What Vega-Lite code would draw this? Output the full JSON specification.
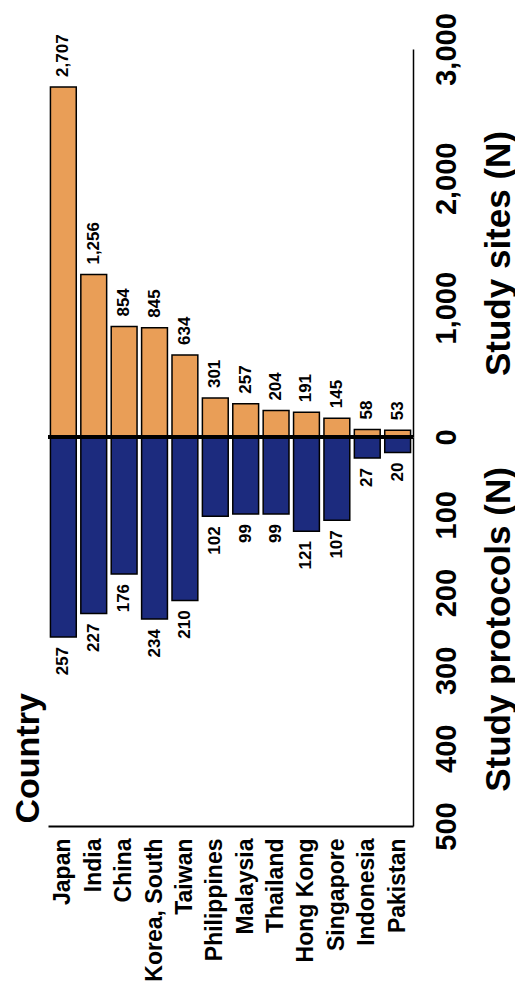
{
  "$schema": "https://vega.github.io/schema/vega-lite/v6.json",
  "background": "white",
  "padding": {"left": 10, "top": 12, "right": 0, "bottom": 0},
  "autosize": {"type": "pad"},
  "spacing": 0,
  "bounds": "flush",
  "config": {
    "view": {"stroke": null},
    "font": "Liberation Sans",
    "axis": {"grid": false, "labelColor": "black", "titleColor": "black", "domainColor": "black", "labelFontWeight": "bold", "titleFontWeight": "bold"},
    "concat": {"spacing": 0}
  },
  "data": {
    "values": [
      {"country": "Japan", "sites": 2707, "protocols": 257},
      {"country": "India", "sites": 1256, "protocols": 227},
      {"country": "China", "sites": 854, "protocols": 176},
      {"country": "Korea, South", "sites": 845, "protocols": 234},
      {"country": "Taiwan", "sites": 634, "protocols": 210},
      {"country": "Philippines", "sites": 301, "protocols": 102},
      {"country": "Malaysia", "sites": 257, "protocols": 99},
      {"country": "Thailand", "sites": 204, "protocols": 99},
      {"country": "Hong Kong", "sites": 191, "protocols": 121},
      {"country": "Singapore", "sites": 145, "protocols": 107},
      {"country": "Indonesia", "sites": 58, "protocols": 27},
      {"country": "Pakistan", "sites": 53, "protocols": 20}
    ]
  },
  "vconcat": [
    {
      "width": 365,
      "height": 388,
      "encoding": {
        "x": {
          "field": "country", "type": "nominal", "sort": null,
          "scale": {"paddingInner": 0.15, "paddingOuter": 0.08},
          "axis": null
        },
        "y": {
          "field": "sites", "type": "quantitative",
          "scale": {"domain": [0, 3000], "nice": false},
          "axis": {
            "orient": "right", "values": [0, 1000, 2000, 3000], "format": ",d", "ticks": false,
            "domainWidth": 1.5, "labelAngle": 270, "labelAlign": "center", "labelBaseline": "top",
            "labelPadding": 19, "labelFontSize": 29,
            "title": "Study sites (N)", "titleAngle": 270, "titleFontSize": 35,
            "titleX": 85, "titleY": 204, "titleAlign": "center", "titleBaseline": "middle"
          }
        }
      },
      "layer": [
        {"mark": {"type": "bar", "color": "#E99E57", "stroke": "black", "strokeWidth": 1.5}},
        {
          "mark": {"type": "text", "angle": 270, "align": "left", "baseline": "middle", "dx": 10, "fontSize": 17, "fontWeight": "bold", "color": "black"},
          "encoding": {"text": {"field": "sites", "type": "quantitative", "format": ",d"}}
        }
      ]
    },
    {
      "width": 365,
      "height": 389,
      "layer": [
        {
          "mark": {"type": "bar", "color": "#1C2B7E", "stroke": "black", "strokeWidth": 1.5},
          "encoding": {
            "x": {
              "field": "country", "type": "nominal", "sort": null,
              "scale": {"paddingInner": 0.15, "paddingOuter": 0.08},
              "axis": {
                "orient": "bottom", "ticks": false, "domain": true, "domainWidth": 2,
                "labelAngle": 270, "labelAlign": "right", "labelBaseline": "middle", "labelPadding": 12, "labelFontSize": 23,
                "title": "Country", "titleAngle": 270, "titleAlign": "left", "titleBaseline": "middle",
                "titleX": -20, "titleY": -3, "titleFontSize": 34
              }
            },
            "y": {
              "field": "protocols", "type": "quantitative",
              "scale": {"domain": [0, 500], "nice": false, "reverse": true},
              "axis": {
                "orient": "right", "values": [100, 200, 300, 400, 500], "ticks": false,
                "domainWidth": 1.5, "labelAngle": 270, "labelAlign": "center", "labelBaseline": "top",
                "labelPadding": 19, "labelFontSize": 29,
                "title": "Study protocols (N)", "titleAngle": 270, "titleFontSize": 35,
                "titleX": 85, "titleY": 192, "titleAlign": "center", "titleBaseline": "middle"
              }
            }
          }
        },
        {
          "mark": {"type": "text", "angle": 270, "align": "right", "baseline": "middle", "dx": -10, "fontSize": 17, "fontWeight": "bold", "color": "black"},
          "encoding": {
            "x": {"field": "country", "type": "nominal", "sort": null},
            "y": {"field": "protocols", "type": "quantitative"},
            "text": {"field": "protocols", "type": "quantitative"}
          }
        },
        {
          "mark": {"type": "rule", "color": "black", "strokeWidth": 3},
          "encoding": {"y": {"datum": 0}}
        }
      ]
    }
  ]
}
